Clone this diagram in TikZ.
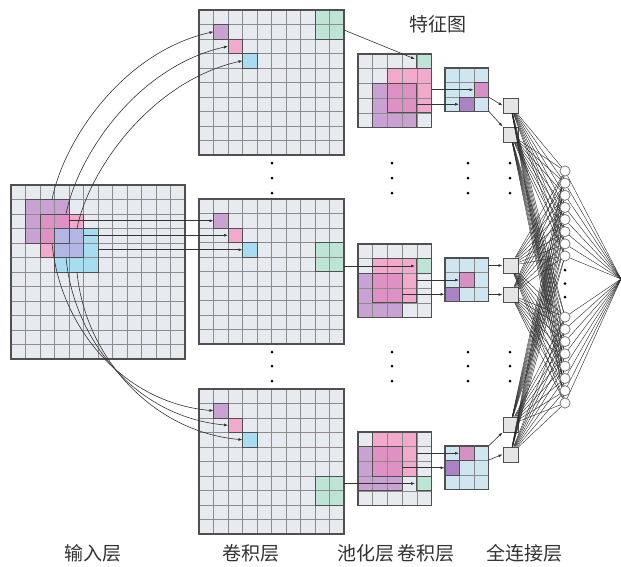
\documentclass[tikz,border=0pt]{standalone}
\usepackage{fontspec}
\newfontfamily\cjk{Noto Sans CJK SC}
\usetikzlibrary{arrows.meta}
\definecolor{gridbg}{HTML}{E7EAEE}
\definecolor{gridln}{HTML}{8C8C8C}
\definecolor{bord}{HTML}{505050}
\definecolor{cpur}{HTML}{C9A2D3}
\definecolor{cpink}{HTML}{F1A9CC}
\definecolor{cpp}{HTML}{DE92C3}
\definecolor{cblue}{HTML}{A7DCF1}
\definecolor{cbp}{HTML}{B3B6E3}
\definecolor{cgreen}{HTML}{BDE4D4}
\definecolor{mapbl}{HTML}{CFE6F1}
\definecolor{mpink}{HTML}{D690C4}
\definecolor{mpur}{HTML}{A983C3}
\tikzset{
  cellline/.style={draw=gridln, line width=0.6pt},
  mapborder/.style={draw=bord, line width=1.3pt},
  hl/.style={draw=bord, line width=1pt},
  arr/.style={draw=black!80, line width=0.6pt, -{Latex[length=4pt,width=3pt]}},
  fcline/.style={draw=black!85, line width=0.4pt},
  sqnode/.style={draw=bord, line width=1pt, fill=black!10, minimum size=15pt, inner sep=0pt},
  neuron/.style={circle, draw=black!55, fill=white, line width=0.6pt, minimum size=10pt, inner sep=0pt},
  dotm/.style={fill=black, circle, inner sep=0pt, minimum size=3pt},
  lbl/.style={font=\cjk\fontsize{19}{21}\selectfont, text=black!80},
}
% x y n cell n-1
\newcommand\gridlinesM[5]{%
  \foreach \k in {1,...,#5}{
    \draw[cellline] ({#1+\k*#4},#2) -- ++(0,{#3*#4});
    \draw[cellline] (#1,{#2+\k*#4}) -- ++({#3*#4},0);
  }
  \draw[mapborder] (#1,#2) rectangle ++({#3*#4},{#3*#4});
}
% x y cell col row size style
\newcommand\blk[7]{\path[#7] ({#1+#3*#4},{#2+#3*#5}) rectangle ++({#3*#6},{#3*#6});}
\begin{document}
\begin{tikzpicture}[x=1pt,y=-1pt]
\useasboundingbox (0,0) rectangle (621,566);
\fill[white] (0,0) rectangle (621,566);

% ---------- input layer ----------
\fill[gridbg] (11,185) rectangle ++(174,174);
\blk{11}{185}{14.5}{1}{1}{3}{fill=cpur}
\blk{11}{185}{14.5}{2}{2}{3}{fill=cpink}
\blk{11}{185}{14.5}{2}{2}{2}{fill=cpp}
\blk{11}{185}{14.5}{3}{3}{3}{fill=cblue}
\blk{11}{185}{14.5}{3}{3}{2}{fill=cbp}
\gridlinesM{11}{185}{12}{14.5}{11}
\blk{11}{185}{14.5}{1}{1}{3}{hl}
\blk{11}{185}{14.5}{2}{2}{3}{hl}
\blk{11}{185}{14.5}{3}{3}{3}{hl}

% ---------- conv layer maps ----------
\foreach \yy/\gr in {10/0,199/3,389/6}{
  \fill[gridbg] (199,\yy) rectangle ++(145,145);
  \blk{199}{\yy}{14.5}{1}{1}{1}{fill=cpur}
  \blk{199}{\yy}{14.5}{2}{2}{1}{fill=cpink}
  \blk{199}{\yy}{14.5}{3}{3}{1}{fill=cblue}
  \blk{199}{\yy}{14.5}{8}{\gr}{2}{fill=cgreen}
  \gridlinesM{199}{\yy}{10}{14.5}{9}
  \blk{199}{\yy}{14.5}{1}{1}{1}{hl}
  \blk{199}{\yy}{14.5}{2}{2}{1}{hl}
  \blk{199}{\yy}{14.5}{3}{3}{1}{hl}
  \blk{199}{\yy}{14.5}{8}{\gr}{2}{hl}
}

% ---------- pooled maps ----------
\foreach \yy/\g/\pc/\pr/\uc/\ur in {54/0/2/1/1/2, 244/1/1/1/0/2, 432/3/1/0/0/1}{
  \fill[gridbg] (358,\yy) rectangle ++(73.5,73.5);
  \blk{358}{\yy}{14.7}{4}{\g}{1}{fill=cgreen}
  \blk{358}{\yy}{14.7}{\pc}{\pr}{3}{fill=cpink}
  \blk{358}{\yy}{14.7}{\uc}{\ur}{3}{fill=cpur}
  \blk{358}{\yy}{14.7}{\pc}{\ur}{2}{fill=cpp}
  \gridlinesM{358}{\yy}{5}{14.7}{4}
  \blk{358}{\yy}{14.7}{4}{\g}{1}{hl}
  \blk{358}{\yy}{14.7}{\pc}{\pr}{3}{hl}
  \blk{358}{\yy}{14.7}{\uc}{\ur}{3}{hl}
}

% ---------- second conv maps (3x3) ----------
\foreach \yy/\kc/\kr/\qc/\qr in {68/2/1/1/2, 258/1/1/0/2, 446/1/0/0/1}{
  \fill[mapbl] (445,\yy) rectangle ++(43.5,43.5);
  \blk{445}{\yy}{14.5}{\kc}{\kr}{1}{fill=mpink}
  \blk{445}{\yy}{14.5}{\qc}{\qr}{1}{fill=mpur}
  \gridlinesM{445}{\yy}{3}{14.5}{2}
  \blk{445}{\yy}{14.5}{\kc}{\kr}{1}{hl}
  \blk{445}{\yy}{14.5}{\qc}{\qr}{1}{hl}
}

% ---------- arrows input -> conv ----------
\coordinate (ip1) at (69,220.75);   \coordinate (mp1) at (213.5,220.75);
\coordinate (ip2) at (83.5,235.25); \coordinate (mp2) at (228,235.25);
\coordinate (ip3) at (98,249.75);   \coordinate (mp3) at (242.5,249.75);
\foreach \i in {1,2,3}{\draw[arr] (ip\i) -- (mp\i);}

\coordinate (it1) at (52,199.5); \coordinate (tp1) at (213.5,31.75);
\coordinate (it2) at (66,214);   \coordinate (tp2) at (228,46.25);
\coordinate (it3) at (77,228.5); \coordinate (tp3) at (242.5,60.75);
\foreach \i in {1,2,3}{\draw[arr] (it\i) .. controls +(12,-60) and +(-90,20) .. (tp\i);}

\coordinate (ib1) at (52,243);   \coordinate (bp1) at (213.5,410.75);
\coordinate (ib2) at (66,257.5); \coordinate (bp2) at (228,425.25);
\coordinate (ib3) at (77,272);   \coordinate (bp3) at (242.5,439.75);
\foreach \i in {1,2,3}{\draw[arr] (ib\i) .. controls +(8,85) and +(-90,-8) .. (bp\i);}

% ---------- conv -> pool ----------
\coordinate (g1a) at (344,30);    \coordinate (g1b) at (415,59);
\coordinate (g2a) at (344,266);   \coordinate (g2b) at (415,266);
\coordinate (g3a) at (344,483.5); \coordinate (g3b) at (415,483.5);
\foreach \i in {1,2,3}{\draw[arr] (g\i a) -- (g\i b);}

% ---------- pool -> 3x3 ----------
\coordinate (pa1) at (431.5,89.75);  \coordinate (pb1) at (473.5,89.75);
\coordinate (pa2) at (416.8,104.25); \coordinate (pb2) at (459,104.25);
\coordinate (pa3) at (416.8,280);    \coordinate (pb3) at (459,280);
\coordinate (pa4) at (402,294.25);   \coordinate (pb4) at (444.5,294.25);
\coordinate (pa5) at (416.8,453.25); \coordinate (pb5) at (459,453.25);
\coordinate (pa6) at (402,467.75);   \coordinate (pb6) at (444.5,467.75);
\foreach \i in {1,...,6}{\draw[arr] (pa\i) -- (pb\i);}

% ---------- squares & neurons ----------
\foreach \i/\yy in {1/105.5,2/134.5,3/265.5,4/294.5,5/424.5,6/454.5}{
  \node[sqnode] (s\i) at (510.5,\yy) {};
}
\foreach \i in {1,...,8}{
  \node[neuron] (c\i) at (565,{171+12.14*(\i-1)}) {};
  \pgfmathtruncatemacro\j{\i+8}
  \node[neuron] (c\j) at (565,{317+12.29*(\i-1)}) {};
}
\coordinate (apex) at (621,279);
\foreach \s in {1,...,6}{
  \foreach \c in {1,...,16}{\draw[fcline] (s\s) -- (c\c);}
}
\foreach \c in {1,...,16}{\draw[fcline] (c\c) -- (apex);}
\foreach \i in {1,...,8}{
  \node[neuron] at (c\i) {};
  \pgfmathtruncatemacro\j{\i+8}
  \node[neuron] at (c\j) {};
}

% 3x3 -> squares
\coordinate (qa1) at (488.5,97);
\coordinate (qa2) at (488.5,111);
\coordinate (qa3) at (488.5,265.5);
\coordinate (qa4) at (488.5,294.5);
\coordinate (qa5) at (488.5,446);
\coordinate (qa6) at (488.5,460);
\draw[arr] (qa1) -- (s1.west);
\draw[arr] (qa2) -- (s2.north west);
\draw[arr] (qa3) -- (s3.west);
\draw[arr] (qa4) -- (s4.west);
\draw[arr] (qa5) -- (s5.south west);
\draw[arr] (qa6) -- (s6.west);

% ---------- dots ----------
\foreach \xx in {272,392,468,510}{
  \foreach \yy in {163,178,193,352,366,381}{\node[dotm] at (\xx,\yy) {};}
}
\foreach \yy in {270,283.5,297}{\node[dotm] at (565,\yy) {};}

% ---------- labels ----------
\node[lbl] (l1) at (93,553) {输入层};
\node[lbl] (l2) at (251,553) {卷积层};
\node[lbl] (l3) at (366,553) {池化层};
\node[lbl] (l4) at (426,553) {卷积层};
\node[lbl] (l5) at (524,553) {全连接层};
\node[lbl] (l6) at (438,24) {特征图};
\end{tikzpicture}
\end{document}
